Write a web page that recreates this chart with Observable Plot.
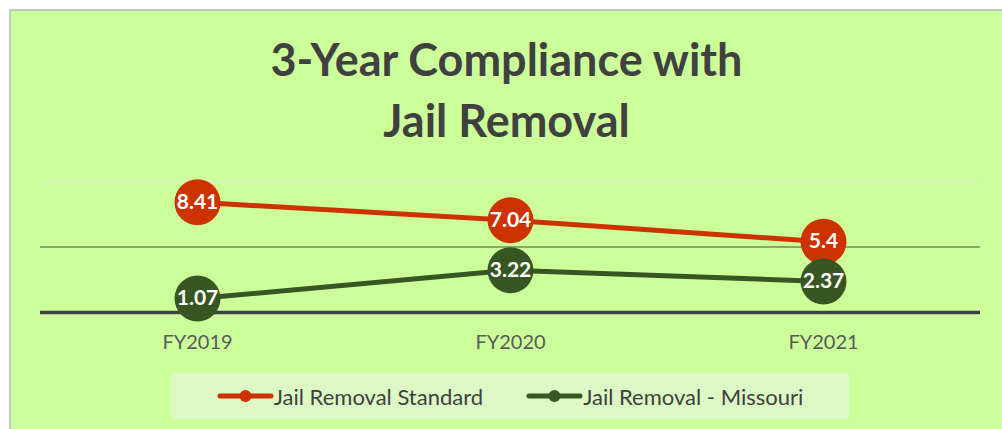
<!DOCTYPE html>
<html>
<head>
<meta charset="utf-8">
<script src="https://cdn.jsdelivr.net/npm/d3@7"></script>
<script src="https://cdn.jsdelivr.net/npm/@observablehq/plot@0.6"></script>
<style>
  html, body { margin: 0; padding: 0; background: #ffffff; width: 1002px; height: 429px; overflow: hidden; }
  #frame {
    position: absolute; left: 9px; top: 9px; width: 993px; height: 420px;
    border-left: 2px solid #c4c4c4; border-top: 2px solid #c4c4c4;
    background: #ccff99; box-sizing: border-box;
    font-family: Lato, "Open Sans", sans-serif;
  }
  #title {
    position: absolute; left: 0; top: 18px; width: 100%;
    text-align: center; font-weight: bold; font-size: 45px; line-height: 61px; color: #404040;
  }
  #chart { position: absolute; left: 0; top: 139px; }
  #legend {
    position: absolute; left: 160px; top: 362px; width: 678px; height: 46px;
    background: #dcf8c4; display: flex; align-items: center; justify-content: center; gap: 43px;
    font-size: 22px; color: #404040;
  }
  .item { display: flex; align-items: center; }
</style>
</head>
<body>
<div id="frame">
  <div id="title">3-Year Compliance with<br>Jail Removal</div>
  <div id="chart"></div>
  <div id="legend"></div>
</div>
<script>
const categories = ["FY2019", "FY2020", "FY2021"];
const seriesNames = ["Jail Removal Standard", "Jail Removal - Missouri"];
const standardValues = [8.41, 7.04, 5.4];
const missouriValues = [1.07, 3.22, 2.37];
const seriesColors = ["#cc3300", "#375623"];

const rows = [];
categories.forEach((c, i) => {
  rows.push({cat: c, series: seriesNames[0], value: standardValues[i]});
});
categories.forEach((c, i) => {
  rows.push({cat: c, series: seriesNames[1], value: missouriValues[i]});
});
const dataA = rows.filter(d => d.series === seriesNames[0]);
const dataB = rows.filter(d => d.series === seriesNames[1]);

const chart = Plot.plot({
  width: 991,
  height: 205,
  marginLeft: 29,
  marginRight: 22,
  marginTop: 31,
  marginBottom: 43,
  style: {background: "transparent", fontFamily: "Lato, 'Open Sans', sans-serif"},
  x: {type: "point", domain: categories, padding: 0.5, label: null},
  y: {domain: [0, 10], axis: null},
  marks: [
    Plot.ruleY([10], {stroke: "#d9f0c4", strokeWidth: 2}),
    Plot.ruleY([5], {stroke: "#87a86a", strokeWidth: 2}),
    Plot.ruleY([0], {stroke: "#404040", strokeWidth: 3.5}),
    Plot.axisX({tickSize: 0, tickPadding: 22, fontSize: 20, color: "#595959", label: null}),
    Plot.line(dataA, {x: "cat", y: "value", stroke: seriesColors[0], strokeWidth: 5}),
    Plot.dot(dataA, {x: "cat", y: "value", r: 23, fill: seriesColors[0]}),
    Plot.text(dataA, {x: "cat", y: "value", text: d => String(d.value), fill: "white", fontWeight: "bold", fontSize: 21}),
    Plot.line(dataB, {x: "cat", y: "value", stroke: seriesColors[1], strokeWidth: 5}),
    Plot.dot(dataB, {x: "cat", y: "value", r: 23, fill: seriesColors[1]}),
    Plot.text(dataB, {x: "cat", y: "value", text: d => String(d.value), fill: "white", fontWeight: "bold", fontSize: 21})
  ]
});
document.getElementById("chart").appendChild(chart);

const legend = document.getElementById("legend");
seriesNames.forEach((name, i) => {
  const item = document.createElement("div");
  item.className = "item";
  item.innerHTML = `<svg width="57" height="16"><line x1="3" y1="8" x2="54" y2="8" stroke="${seriesColors[i]}" stroke-width="5" stroke-linecap="round"/><circle cx="28.5" cy="8" r="6" fill="${seriesColors[i]}"/></svg><span>${name}</span>`;
  legend.appendChild(item);
});
</script>
</body>
</html>
